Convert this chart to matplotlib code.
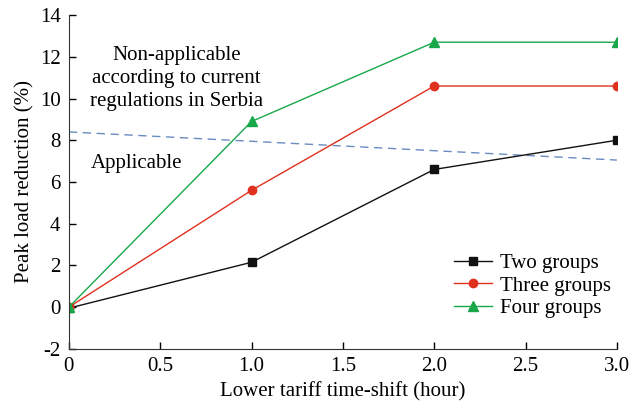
import matplotlib.pyplot as plt

# Time-shift of the lower tariff (hours)
shift = [0.0, 1.0, 2.0, 3.0]

# Peak load reduction (%) per number of consumer groups
two_groups = [-0.05, 2.15, 6.6, 8.0]
three_groups = [0.0, 5.6, 10.6, 10.6]
four_groups = [0.0, 8.9, 12.7, 12.7]

# Applicability limit
limit_x = [0.0, 3.0]
limit_y = [8.4, 7.05]

xticks = [0, 0.5, 1.0, 1.5, 2.0, 2.5, 3.0]
xtick_labels = ['0', '0.5', '1.0', '1.5', '2.0', '2.5', '3.0']
yticks = [-2, 0, 2, 4, 6, 8, 10, 12, 14]

plt.rcParams['font.family'] = ['Liberation Serif', 'DejaVu Serif']
plt.rcParams['font.size'] = 15
plt.rcParams['axes.unicode_minus'] = False

fig = plt.figure(figsize=(6.32, 4.08), dpi=100)
ax = fig.add_axes([0.109, 0.145, 0.867, 0.818])

ax.plot(limit_x, limit_y, '--', color='#6a8cc0', lw=1.0, dashes=(6, 4))
ax.plot(shift, two_groups, '-s', color='#111111', lw=1.0, ms=6, label='Two groups')
ax.plot(shift, three_groups, '-o', color='#e0301e', lw=1.0, ms=6, label='Three groups')
ax.plot(shift, four_groups, '-^', color='#18a84a', lw=1.0, ms=7, label='Four groups')

ax.text(0.59, 10.95, 'Non-applicable\naccording to current\nregulations in Serbia',
        ha='center', va='center', linespacing=1.3)
ax.text(0.37, 6.9, 'Applicable', ha='center', va='center')

ax.set_xlim(0, 3.0)
ax.set_ylim(-2, 14)
ax.set_xticks(xticks)
ax.set_xticklabels(xtick_labels)
ax.set_yticks(yticks)
ax.tick_params(direction='in', length=5, width=1, pad=6)
ax.spines['top'].set_visible(False)
ax.spines['right'].set_visible(False)
for s in ('left', 'bottom'):
    ax.spines[s].set_color('#333333')

ax.set_xlabel('Lower tariff time-shift (hour)', labelpad=4)
ax.set_ylabel('Peak load reduction (%)')

ax.legend(loc='lower right', bbox_to_anchor=(1.024, 0.035), frameon=False,
          handlelength=1.8, handletextpad=0.4, labelspacing=0.15)

fig.savefig('out.png', dpi=100)
